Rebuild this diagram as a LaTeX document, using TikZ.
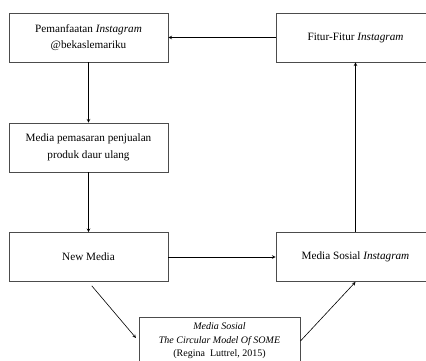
\documentclass[tikz,border=0pt]{standalone}
\usepackage{fontspec}
\setmainfont{Liberation Serif}
\usetikzlibrary{positioning}

\tikzstyle{block} = [rectangle, minimum width=159pt, minimum height=49pt, text centered, align=center, draw=black!70, line width=0.9pt, font=\fontsize{11.2}{16.5}\selectfont]
\tikzstyle{small} = [rectangle, minimum width=161pt, minimum height=48pt, text centered, align=center, draw=black!70, line width=0.9pt, font=\fontsize{10}{13.5}\selectfont]
\tikzstyle{arrow} = [line width=0.6pt,->,>=stealth]

\begin{document}
\begin{tikzpicture}[x=1pt, y=-1pt, node distance=108pt]
\useasboundingbox (0,0) rectangle (426,360);
\clip (0,0) rectangle (426,360);

% left column
\node (pem) [block] at (88.5,37.5) {Pemanfaatan \textit{Instagram}\\@bekaslemariku};
\node (pms) [block, below of=pem, yshift=-2pt] {Media pemasaran penjualan\\produk daur ulang};
\node (nm)  [block, below of=pms, yshift=-1.5pt] {New Media};

% right column
\node (ms)  [block, right of=nm, xshift=159pt] {Media Sosial \textit{Instagram}};
\node (fit) [block, right of=pem, xshift=159pt] {Fitur-Fitur \textit{Instagram}};

% model
\node (som) [small, below of=nm, xshift=131pt, yshift=24pt] {\textit{Media Sosial}\\\textit{The Circular Model Of SOME}\\(Regina~ Luttrel, 2015)};

\draw [arrow] (fit) -- (pem);
\draw [arrow] (pem) -- (pms);
\draw [arrow] (pms) -- (nm);
\draw [arrow] (nm) -- (ms);
\draw [arrow] (ms) -- (fit);
\draw [arrow, shorten <=5pt, shorten >=4pt] (nm.south) -- (som.west);
\draw [arrow] (som.east) -- (ms.south);
\end{tikzpicture}
\end{document}
